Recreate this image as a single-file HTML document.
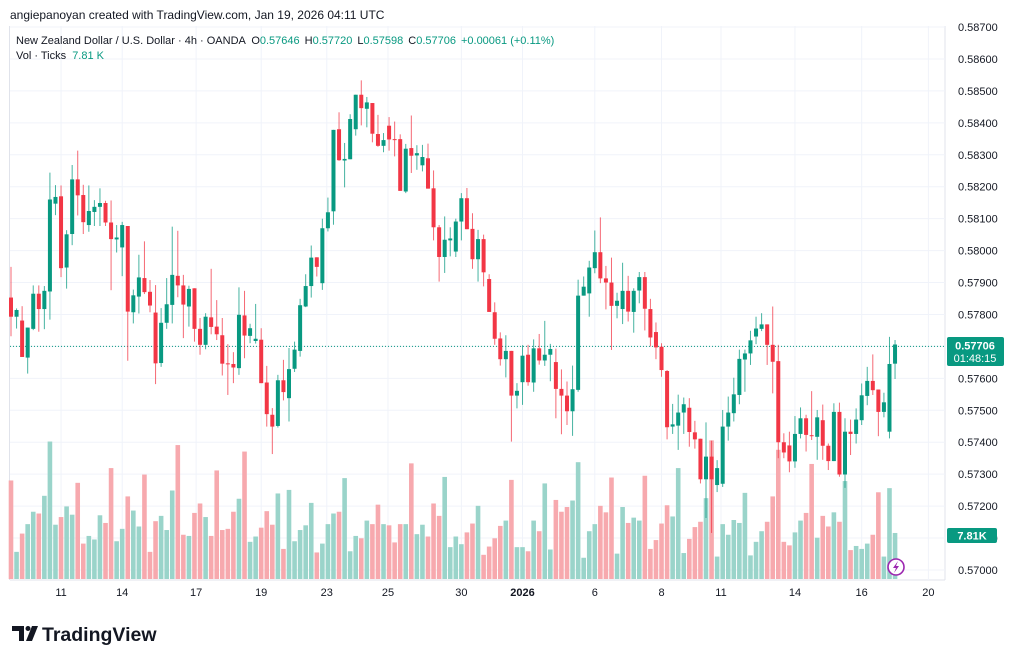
<!DOCTYPE html>
<html><head><meta charset="utf-8"><style>
html,body{margin:0;padding:0;background:#fff;}
svg{display:block;font-family:"Liberation Sans",sans-serif;}
</style></head><body>
<svg id="chart" width="1024" height="661" viewBox="0 0 1024 661" xmlns="http://www.w3.org/2000/svg">
<rect x="0" y="0" width="1024" height="661" fill="#ffffff"/>
<g id="grid"></g>
<g id="vol"></g>
<line x1="10" y1="346.4" x2="945" y2="346.4" stroke="#089981" stroke-width="1" stroke-dasharray="1,2"/>
<g id="candles"></g>
<g id="yaxis"></g>
<g id="xaxis"></g>
<text x="10" y="19" font-size="12" fill="#131722">angiepanoyan created with TradingView.com, Jan 19, 2026 04:11 UTC</text>
<text x="16" y="44" font-size="11" fill="#131722">New Zealand Dollar / U.S. Dollar · 4h · OANDA <tspan dx="3">O</tspan><tspan fill="#089981">0.57646</tspan><tspan dx="5">H</tspan><tspan fill="#089981">0.57720</tspan><tspan dx="5">L</tspan><tspan fill="#089981">0.57598</tspan><tspan dx="5">C</tspan><tspan fill="#089981">0.57706</tspan><tspan dx="5" fill="#089981">+0.00061 (+0.11%)</tspan></text>
<text x="16" y="59" font-size="11" fill="#131722">Vol · Ticks <tspan dx="3" fill="#089981">7.81 K</tspan></text>
<g>
<rect x="947" y="337" width="57" height="29" rx="2" fill="#089981"/>
<text x="975" y="349.5" font-size="11" fill="#fff" text-anchor="middle" font-weight="bold">0.57706</text>
<text x="975" y="362" font-size="11" fill="#fff" text-anchor="middle">01:48:15</text>
</g>
<g>
<rect x="947" y="528" width="50" height="15" rx="2" fill="#089981"/>
<text x="972" y="539.5" font-size="11" fill="#fff" text-anchor="middle" font-weight="bold">7.81K</text>
</g>
<g>
<circle cx="896" cy="567" r="8" fill="#fff" stroke="#9c27b0" stroke-width="1.6"/>
<path d="M898 561 L893 568 L896 568 L894 573 L899 566 L896 566 Z" fill="#9c27b0"/>
</g>
<g>
<path d="M12 626 H24 V641 H19 V631 H12 Z" fill="#131722"/>
<circle cx="28" cy="628.5" r="2.5" fill="#131722"/>
<path d="M32 626 H38 L32 641 H26 Z" fill="#131722"/>
<text x="42" y="641" font-size="19.5" font-weight="bold" fill="#131722">TradingView</text>
</g>
</svg>
<script>
const opens=[0.57853,0.57793,0.57781,0.57665,0.57755,0.57865,0.57817,0.57872,0.58147,0.58170,0.57947,0.58052,0.58223,0.58174,0.58080,0.58121,0.58137,0.58149,0.58088,0.58035,0.58010,0.58077,0.57807,0.57856,0.57914,0.57871,0.57806,0.57648,0.57774,0.57830,0.57921,0.57891,0.57825,0.57882,0.57755,0.57705,0.57791,0.57762,0.57735,0.57647,0.57645,0.57632,0.57797,0.57733,0.57717,0.57721,0.57587,0.57486,0.57451,0.57594,0.57538,0.57630,0.57686,0.57825,0.57889,0.57979,0.57898,0.58070,0.58123,0.58380,0.58282,0.58286,0.58380,0.58488,0.58444,0.58462,0.58365,0.58328,0.58391,0.58349,0.58349,0.58185,0.58321,0.58298,0.58267,0.58289,0.58195,0.58073,0.57980,0.58032,0.57997,0.58091,0.58164,0.58068,0.57973,0.58036,0.57911,0.57807,0.57725,0.57660,0.57686,0.57546,0.57588,0.57674,0.57587,0.57694,0.57656,0.57674,0.57651,0.57567,0.57546,0.57497,0.57564,0.57859,0.57866,0.57945,0.57995,0.57913,0.57900,0.57827,0.57817,0.57874,0.57808,0.57875,0.57917,0.57817,0.57745,0.57699,0.57623,0.57449,0.57452,0.57493,0.57508,0.57431,0.57411,0.57284,0.57355,0.57266,0.57270,0.57449,0.57491,0.57548,0.57659,0.57678,0.57731,0.57755,0.57769,0.57705,0.57654,0.57400,0.57390,0.57340,0.57426,0.57475,0.57422,0.57417,0.57469,0.57389,0.57341,0.57495,0.57299,0.57433,0.57426,0.57469,0.57545,0.57592,0.57565,0.57495,0.57433,0.57646];
const highs=[0.57949,0.57819,0.57826,0.57759,0.57891,0.57891,0.57889,0.58244,0.58205,0.58204,0.58064,0.58268,0.58313,0.58206,0.58204,0.58158,0.58195,0.58156,0.58157,0.58080,0.58090,0.58077,0.57878,0.57987,0.58029,0.57908,0.57892,0.57820,0.57914,0.58075,0.58062,0.57924,0.57890,0.57882,0.57789,0.57804,0.57943,0.57845,0.57789,0.57707,0.57682,0.57885,0.57874,0.57771,0.57833,0.57757,0.57639,0.57507,0.57611,0.57658,0.57695,0.57715,0.57849,0.57926,0.58016,0.57979,0.58100,0.58166,0.58378,0.58433,0.58337,0.58427,0.58488,0.58533,0.58481,0.58462,0.58425,0.58368,0.58418,0.58404,0.58364,0.58334,0.58423,0.58330,0.58331,0.58335,0.58251,0.58080,0.58107,0.58073,0.58100,0.58180,0.58196,0.58117,0.58065,0.58050,0.57926,0.57838,0.57744,0.57735,0.57686,0.57585,0.57704,0.57705,0.57722,0.57739,0.57780,0.57708,0.57693,0.57628,0.57590,0.57640,0.57909,0.57919,0.57968,0.58063,0.58104,0.57952,0.57978,0.57868,0.57962,0.57921,0.57882,0.57933,0.57933,0.57849,0.57775,0.57710,0.57626,0.57520,0.57549,0.57540,0.57538,0.57467,0.57411,0.57462,0.57405,0.57344,0.57501,0.57543,0.57602,0.57690,0.57690,0.57749,0.57793,0.57804,0.57769,0.57825,0.57705,0.57428,0.57433,0.57482,0.57509,0.57486,0.57560,0.57501,0.57518,0.57396,0.57522,0.57524,0.57475,0.57471,0.57506,0.57584,0.57636,0.57675,0.57565,0.57555,0.57730,0.57720];
const lows=[0.57732,0.57756,0.57667,0.57615,0.57751,0.57746,0.57754,0.57784,0.58111,0.57917,0.57881,0.58017,0.58110,0.58052,0.58059,0.58077,0.58077,0.58077,0.57876,0.57994,0.57920,0.57655,0.57772,0.57803,0.57864,0.57807,0.57582,0.57636,0.57755,0.57772,0.57854,0.57726,0.57762,0.57715,0.57674,0.57691,0.57738,0.57720,0.57609,0.57548,0.57585,0.57611,0.57663,0.57710,0.57709,0.57585,0.57449,0.57363,0.57446,0.57531,0.57465,0.57620,0.57668,0.57823,0.57853,0.57919,0.57877,0.58060,0.58081,0.58281,0.58198,0.58286,0.58360,0.58392,0.58386,0.58339,0.58325,0.58308,0.58313,0.58295,0.58187,0.58180,0.58243,0.58253,0.58248,0.58194,0.58032,0.57903,0.57930,0.57982,0.57980,0.58032,0.58067,0.57943,0.57903,0.57888,0.57808,0.57705,0.57640,0.57603,0.57402,0.57506,0.57517,0.57577,0.57558,0.57643,0.57639,0.57591,0.57475,0.57425,0.57454,0.57420,0.57558,0.57859,0.57793,0.57929,0.57898,0.57816,0.57689,0.57788,0.57770,0.57778,0.57743,0.57835,0.57750,0.57700,0.57660,0.57605,0.57409,0.57426,0.57376,0.57426,0.57386,0.57380,0.57271,0.57163,0.57116,0.57244,0.57260,0.57405,0.57465,0.57519,0.57558,0.57642,0.57707,0.57748,0.57642,0.57553,0.57350,0.57350,0.57306,0.57320,0.57412,0.57371,0.57407,0.57345,0.57345,0.57313,0.57341,0.57292,0.57257,0.57360,0.57396,0.57454,0.57516,0.57548,0.57419,0.57478,0.57412,0.57598];
const closes=[0.57793,0.57814,0.57667,0.57759,0.57865,0.57817,0.57874,0.58160,0.58168,0.57945,0.58051,0.58223,0.58173,0.58089,0.58124,0.58137,0.58149,0.58088,0.58036,0.58041,0.58080,0.57809,0.57860,0.57916,0.57870,0.57828,0.57647,0.57774,0.57832,0.57924,0.57891,0.57831,0.57880,0.57755,0.57705,0.57793,0.57761,0.57738,0.57646,0.57645,0.57634,0.57799,0.57734,0.57757,0.57724,0.57585,0.57488,0.57449,0.57594,0.57557,0.57629,0.57690,0.57829,0.57889,0.57978,0.57949,0.58070,0.58120,0.58378,0.58283,0.58287,0.58412,0.58488,0.58446,0.58464,0.58366,0.58328,0.58346,0.58348,0.58346,0.58187,0.58319,0.58297,0.58305,0.58293,0.58194,0.58073,0.57980,0.58034,0.58038,0.58091,0.58164,0.58067,0.57973,0.58036,0.57932,0.57808,0.57724,0.57660,0.57686,0.57546,0.57561,0.57671,0.57588,0.57694,0.57656,0.57674,0.57692,0.57567,0.57546,0.57497,0.57566,0.57859,0.57887,0.57947,0.57995,0.57913,0.57900,0.57827,0.57843,0.57874,0.57809,0.57874,0.57917,0.57818,0.57728,0.57697,0.57626,0.57447,0.57456,0.57493,0.57519,0.57432,0.57409,0.57284,0.57355,0.57284,0.57319,0.57449,0.57493,0.57550,0.57661,0.57678,0.57719,0.57756,0.57769,0.57705,0.57652,0.57400,0.57368,0.57340,0.57426,0.57475,0.57423,0.57419,0.57478,0.57389,0.57341,0.57495,0.57299,0.57433,0.57426,0.57471,0.57547,0.57592,0.57563,0.57495,0.57525,0.57645,0.57706];
const volumes=[16.7,4.6,7.7,9.3,11.4,11.1,14.1,23.3,9.2,10.5,12.3,10.9,16.3,6.0,7.3,6.7,10.8,9.5,18.8,6.4,8.5,14.0,11.6,8.9,17.7,4.6,9.8,10.7,8.3,15.0,22.7,7.5,7.3,11.2,12.8,10.5,7.3,18.4,8.3,8.5,11.4,13.6,21.6,6.3,7.2,8.7,11.5,9.2,14.5,5.1,15.1,6.4,8.3,9.1,12.9,4.5,6.0,9.3,11.1,11.4,17.1,4.7,7.3,6.9,9.9,9.3,12.6,9.3,9.1,6.2,9.3,9.3,19.6,7.6,9.2,7.2,12.8,10.7,17.3,5.4,7.2,5.9,7.9,9.4,12.4,4.1,5.5,6.9,9.0,9.9,16.8,5.4,5.4,4.7,9.9,8.1,16.2,5.0,13.4,11.4,12.2,13.3,19.8,3.6,8.1,9.3,12.4,11.3,17.2,4.3,12.2,9.5,10.4,9.9,17.5,5.1,6.6,9.4,12.5,10.6,18.8,4.4,6.8,8.8,9.7,13.7,23.5,3.8,9.3,7.5,10.0,9.5,14.6,4.0,6.3,8.1,9.7,14.0,21.9,6.3,5.7,7.9,9.9,11.2,19.5,7.0,10.7,8.9,11.3,9.7,16.6,4.9,5.6,5.1,6.0,7.5,14.7,3.8,15.4,7.8];
const priceTicks=[0.570,0.571,0.572,0.573,0.574,0.575,0.576,0.577,0.578,0.579,0.580,0.581,0.582,0.583,0.584,0.585,0.586,0.587];
const timeLabels=["11","14","17","19","23","25","30","2026","6","8","11","14","16","20"];
const timeIdx=[9,20,33.3,45,56.8,67.8,81,92,105,117,127.7,141,153,165];

const NS="http://www.w3.org/2000/svg";
const GREEN="#089981",RED="#f23645";
function yP(p){return 570-(p-0.570)*31940;}
function xI(i){return 11+i*5.56;}
function yV(v){return 579-v*5.9;}
function mk(tag,attrs,parent){const e=document.createElementNS(NS,tag);for(const k in attrs)e.setAttribute(k,attrs[k]);parent.appendChild(e);return e;}

const grid=document.getElementById('grid');
mk('line',{x1:9.5,x2:9.5,y1:26,y2:580,stroke:'#e0e3eb'},grid);
mk('line',{x1:945,x2:945,y1:26,y2:580,stroke:'#e0e3eb'},grid);
mk('line',{x1:10,x2:945,y1:580,y2:580,stroke:'#e0e3eb'},grid);
priceTicks.forEach((p,i)=>{
  const l=mk('line',{x1:10,x2:945,y1:yP(p),y2:yP(p),stroke:'#f0f3fa'},grid);
  
  
});
timeIdx.forEach((t,i)=>{
  const l=mk('line',{x1:xI(t),x2:xI(t),y1:26,y2:580,stroke:'#f0f3fa'},grid);
  
  
});

const vol=document.getElementById('vol');
volumes.forEach((v,i)=>{
  const up=closes[i]>=opens[i];
  const r=mk('rect',{x:xI(i)-2.3,y:yV(v),width:4.6,height:579-yV(v),fill:up?'#9ad4ca':'#f7a9ae'},vol);
  
  
});

const cg=document.getElementById('candles');
opens.forEach((o,i)=>{
  const c=closes[i],up=c>=o,col=up?GREEN:RED,x=xI(i);
  const g=mk('g',{},cg);
  
  
  mk('line',{x1:x,x2:x,y1:yP(highs[i]),y2:yP(lows[i]),stroke:col,'stroke-width':1,'stroke-opacity':0.75},g);
  const top=yP(Math.max(o,c)),bot=yP(Math.min(o,c));
  mk('rect',{x:x-2,y:top,width:4,height:Math.max(1,bot-top),fill:col},g);
});

const ya=document.getElementById('yaxis');
priceTicks.forEach(p=>{
  const t=mk('text',{x:958,y:yP(p)+4,'font-size':11,fill:'#131722'},ya);
  t.textContent=p.toFixed(5);
  
  
});
const xa=document.getElementById('xaxis');
timeLabels.forEach((s,i)=>{
  const t=mk('text',{x:xI(timeIdx[i]),y:596,'font-size':11,fill:'#131722','text-anchor':'middle'},xa);
  if(s==='2026')t.setAttribute('font-weight','bold');
  t.textContent=s;
  
  
});
</script>
</body></html>
